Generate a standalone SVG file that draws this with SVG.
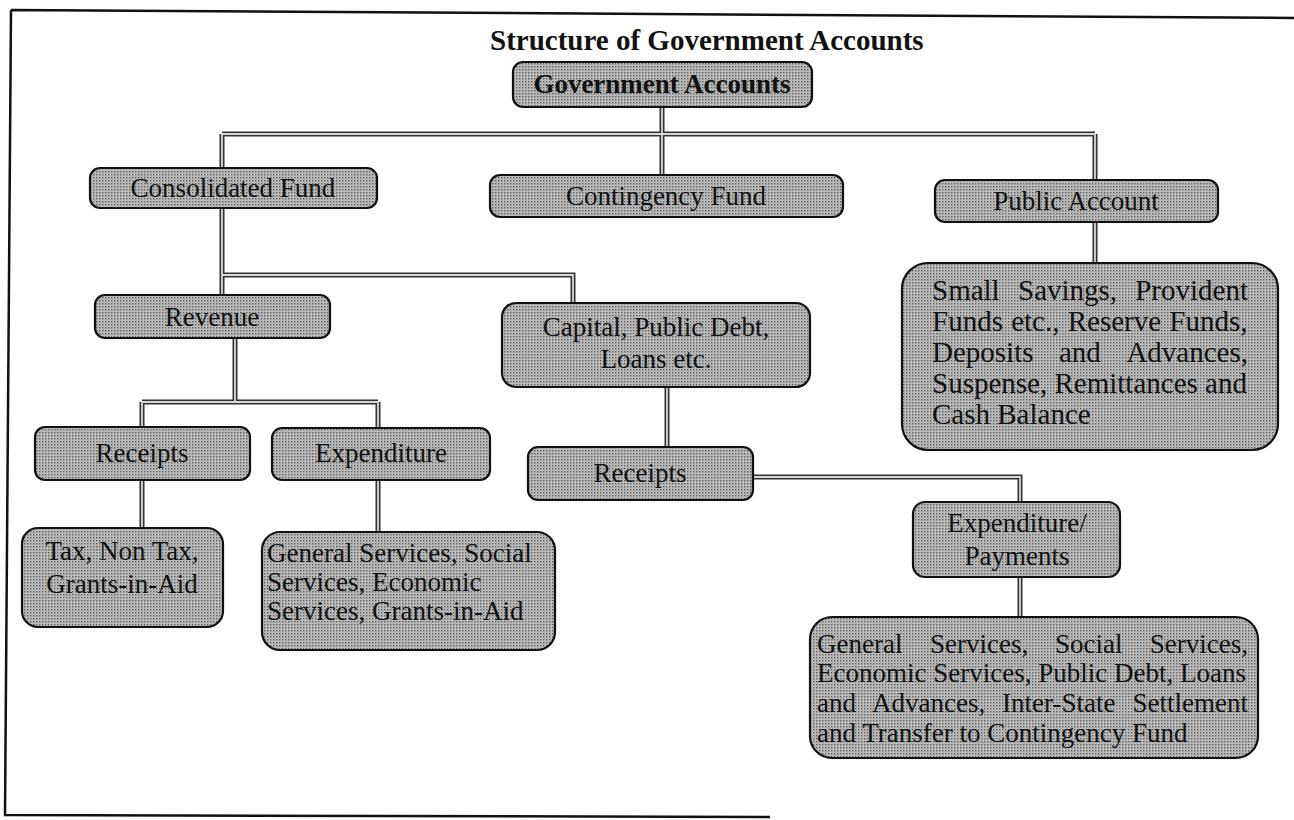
<svg xmlns="http://www.w3.org/2000/svg" width="1294" height="820" viewBox="0 0 1294 820">
<defs>
<pattern id="ht" width="3" height="3" patternUnits="userSpaceOnUse">
<rect width="3" height="3" fill="#c4c4c4"/>
<rect x="0" y="0" width="1.4" height="1.4" fill="#5a5a5a"/>
<rect x="1.5" y="1.5" width="1" height="1" fill="#8a8a8a"/>
</pattern>
<style>
.box{fill:url(#ht);stroke:#111;stroke-width:2.2}
.t{font-family:"Liberation Serif","Times New Roman",serif;font-size:27px;fill:#111}
.p{font-size:29px}
.c{text-anchor:middle}
.e{text-anchor:end}
.b{font-weight:bold}
.co{fill:none;stroke:#333;stroke-width:5}
.ci{fill:none;stroke:#d8d8d8;stroke-width:1.8}
.frame{fill:none;stroke:#111;stroke-width:2.5}
</style>
</defs>
<rect width="1294" height="820" fill="#fff"/>
<path class="frame" d="M11,10 L1294,18 M11,10 L5,815 L770,817"/>
<text class="t b" x="490" y="50" style="font-size:29px">Structure of Government Accounts</text>

<g id="connectors">
<path class="co" d="M662,107 V175 M222,134 H1095 M222,134 V168 M1095,134 V180 M1095,222 V263 M222,208 V295 M222,275 H573 V303 M235,338 V402 M142,402 H378 M142,402 V427 M378,402 V428 M142,480 V528 M378,480 V532 M667,387 V447 M753,477 H1020 V502 M1020,577 V617"/>
<path class="ci" d="M662,107 V175 M222,134 H1095 M222,134 V168 M1095,134 V180 M1095,222 V263 M222,208 V295 M222,275 H573 V303 M235,338 V402 M142,402 H378 M142,402 V427 M378,402 V428 M142,480 V528 M378,480 V532 M667,387 V447 M753,477 H1020 V502 M1020,577 V617"/>
</g>

<g id="gov">
<rect class="box" x="513" y="62" width="299" height="45" rx="10"/>
<text class="t c b" x="662" y="93">Government Accounts</text>
</g>
<g id="consolidated">
<rect class="box" x="90" y="168" width="287" height="40" rx="10"/>
<text class="t c" x="233" y="197">Consolidated Fund</text>
</g>
<g id="contingency">
<rect class="box" x="490" y="175" width="353" height="42" rx="10"/>
<text class="t c" x="666" y="205">Contingency Fund</text>
</g>
<g id="public">
<rect class="box" x="935" y="180" width="283" height="42" rx="10"/>
<text class="t c" x="1076" y="210">Public Account</text>
</g>
<g id="public-items">
<rect class="box" x="902" y="263" width="376" height="187" rx="26"/>
<text class="t p" x="932" y="300">Small</text>
<text class="t p" x="1018" y="300">Savings,</text>
<text class="t p e" x="1248" y="300">Provident</text>
<text class="t p" x="932" y="331" word-spacing="1">Funds etc., Reserve Funds,</text>
<text class="t p" x="932" y="362">Deposits</text>
<text class="t p" x="1059" y="362">and</text>
<text class="t p e" x="1248" y="362">Advances,</text>
<text class="t p" x="932" y="393">Suspense, Remittances and</text>
<text class="t p" x="932" y="424">Cash Balance</text>
</g>
<g id="revenue">
<rect class="box" x="95" y="295" width="235" height="43" rx="10"/>
<text class="t c" x="212" y="326">Revenue</text>
</g>
<g id="capital">
<rect class="box" x="502" y="303" width="308" height="84" rx="14"/>
<text class="t c" x="656" y="336">Capital, Public Debt,</text>
<text class="t c" x="656" y="368">Loans etc.</text>
</g>
<g id="rev-receipts">
<rect class="box" x="35" y="427" width="215" height="53" rx="10"/>
<text class="t c" x="142" y="462">Receipts</text>
</g>
<g id="rev-expenditure">
<rect class="box" x="272" y="428" width="218" height="52" rx="10"/>
<text class="t c" x="381" y="462">Expenditure</text>
</g>
<g id="tax">
<rect class="box" x="22" y="528" width="201" height="99" rx="16"/>
<text class="t c" x="122" y="560">Tax, Non Tax,</text>
<text class="t c" x="122" y="593">Grants-in-Aid</text>
</g>
<g id="general">
<rect class="box" x="262" y="532" width="293" height="118" rx="18"/>
<text class="t" x="267" y="562">General Services, Social</text>
<text class="t" x="267" y="591">Services, Economic</text>
<text class="t" x="267" y="620">Services, Grants-in-Aid</text>
</g>
<g id="cap-receipts">
<rect class="box" x="528" y="447" width="225" height="53" rx="10"/>
<text class="t c" x="640" y="482">Receipts</text>
</g>
<g id="cap-expenditure">
<rect class="box" x="913" y="502" width="207" height="75" rx="12"/>
<text class="t c" x="1017" y="532">Expenditure/</text>
<text class="t c" x="1017" y="565">Payments</text>
</g>
<g id="payments-items">
<rect class="box" x="810" y="617" width="448" height="141" rx="22"/>
<text class="t" x="817" y="653">General</text>
<text class="t" x="930" y="653">Services,</text>
<text class="t" x="1055" y="653">Social</text>
<text class="t e" x="1248" y="653">Services,</text>
<text class="t" x="817" y="682">Economic Services, Public Debt, Loans</text>
<text class="t" x="817" y="712">and</text>
<text class="t" x="872" y="712">Advances,</text>
<text class="t" x="1002" y="712">Inter-State</text>
<text class="t e" x="1248" y="712">Settlement</text>
<text class="t" x="817" y="742">and Transfer to Contingency Fund</text>
</g>
</svg>
